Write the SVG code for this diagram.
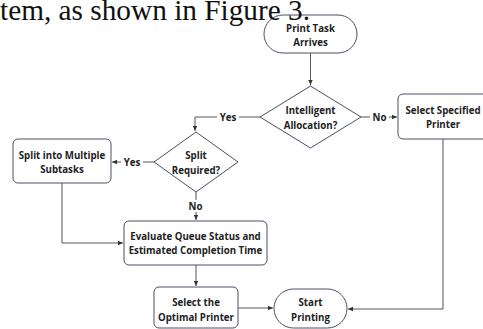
<svg xmlns="http://www.w3.org/2000/svg" width="483" height="329" viewBox="0 0 483 329">
<style>
.n{fill:#fff;stroke:#4a4f66;stroke-width:1}
.t{font-family:"Open Sans","Noto Sans",sans-serif;font-weight:700;font-size:9.7px;fill:#222;text-anchor:middle}
.c{fill:none;stroke:#555;stroke-width:1}
.lb{fill:#fff;stroke:none}
.cap{font-family:"Liberation Serif",serif;font-size:29.3px;fill:#111}
</style>
<defs>
<marker id="a" markerWidth="6" markerHeight="6" refX="5" refY="3" orient="auto" markerUnits="userSpaceOnUse">
<path d="M0,0.8 L5,3 L0,5.2 z" fill="#333"/>
</marker>
</defs>
<rect width="483" height="329" fill="#fff"/>
<g id="connectors">
<path class="c" d="M310.5,53 V85" marker-end="url(#a)"/>
<path class="c" d="M260,117 H195 V131" marker-end="url(#a)"/>
<path class="c" d="M361,117 H397" marker-end="url(#a)"/>
<path class="c" d="M154,162 H112" marker-end="url(#a)"/>
<path class="c" d="M196,192 V220" marker-end="url(#a)"/>
<path class="c" d="M62,183 V243 H123" marker-end="url(#a)"/>
<path class="c" d="M196,265 V286" marker-end="url(#a)"/>
<path class="c" d="M238,308 H273" marker-end="url(#a)"/>
<path class="c" d="M443,139 V309 H348" marker-end="url(#a)"/>
<rect class="lb" x="217" y="111" width="22" height="12"/>
<text class="t" x="228" y="120.5">Yes</text>
<rect class="lb" x="370" y="111" width="19" height="12"/>
<text class="t" x="379.5" y="120.5">No</text>
<rect class="lb" x="121" y="156" width="22" height="12"/>
<text class="t" x="132" y="165.5">Yes</text>
<rect class="lb" x="186" y="200" width="19" height="12"/>
<text class="t" x="195.5" y="209.5">No</text>
</g>
<g id="start">
<rect class="n" x="264" y="15" width="93" height="38" rx="19"/>
<text class="t" x="310.5" y="31.5">Print Task</text>
<text class="t" x="310.5" y="46">Arrives</text>
</g>
<g id="intelligent">
<polygon class="n" points="310.5,86 361,117 310.5,148 260,117"/>
<text class="t" x="310.5" y="114">Intelligent</text>
<text class="t" x="310.5" y="128.5">Allocation?</text>
</g>
<g id="specified">
<rect class="n" x="398" y="94" width="90" height="45" rx="5"/>
<text class="t" x="443" y="114">Select Specified</text>
<text class="t" x="443" y="128">Printer</text>
</g>
<g id="split-required">
<polygon class="n" points="196,132 238,162 196,192 154,162"/>
<text class="t" x="196" y="159">Split</text>
<text class="t" x="196" y="173.5">Required?</text>
</g>
<g id="split">
<rect class="n" x="13" y="139" width="98" height="44" rx="5"/>
<text class="t" x="62" y="158.5">Split into Multiple</text>
<text class="t" x="62" y="172.5">Subtasks</text>
</g>
<g id="evaluate">
<rect class="n" x="124" y="221" width="143" height="44" rx="5"/>
<text class="t" x="195.5" y="239.5">Evaluate Queue Status and</text>
<text class="t" x="195.5" y="254">Estimated Completion Time</text>
</g>
<g id="optimal">
<rect class="n" x="154" y="287" width="84" height="41" rx="5"/>
<text class="t" x="196" y="306">Select the</text>
<text class="t" x="196" y="320.5">Optimal Printer</text>
</g>
<g id="startprint">
<rect class="n" x="274" y="289" width="73" height="39" rx="19.5"/>
<text class="t" x="310.5" y="306">Start</text>
<text class="t" x="310.5" y="320.5">Printing</text>
</g>
<text class="cap" x="0" y="20">tem, as shown in Figure 3.</text>
</svg>
